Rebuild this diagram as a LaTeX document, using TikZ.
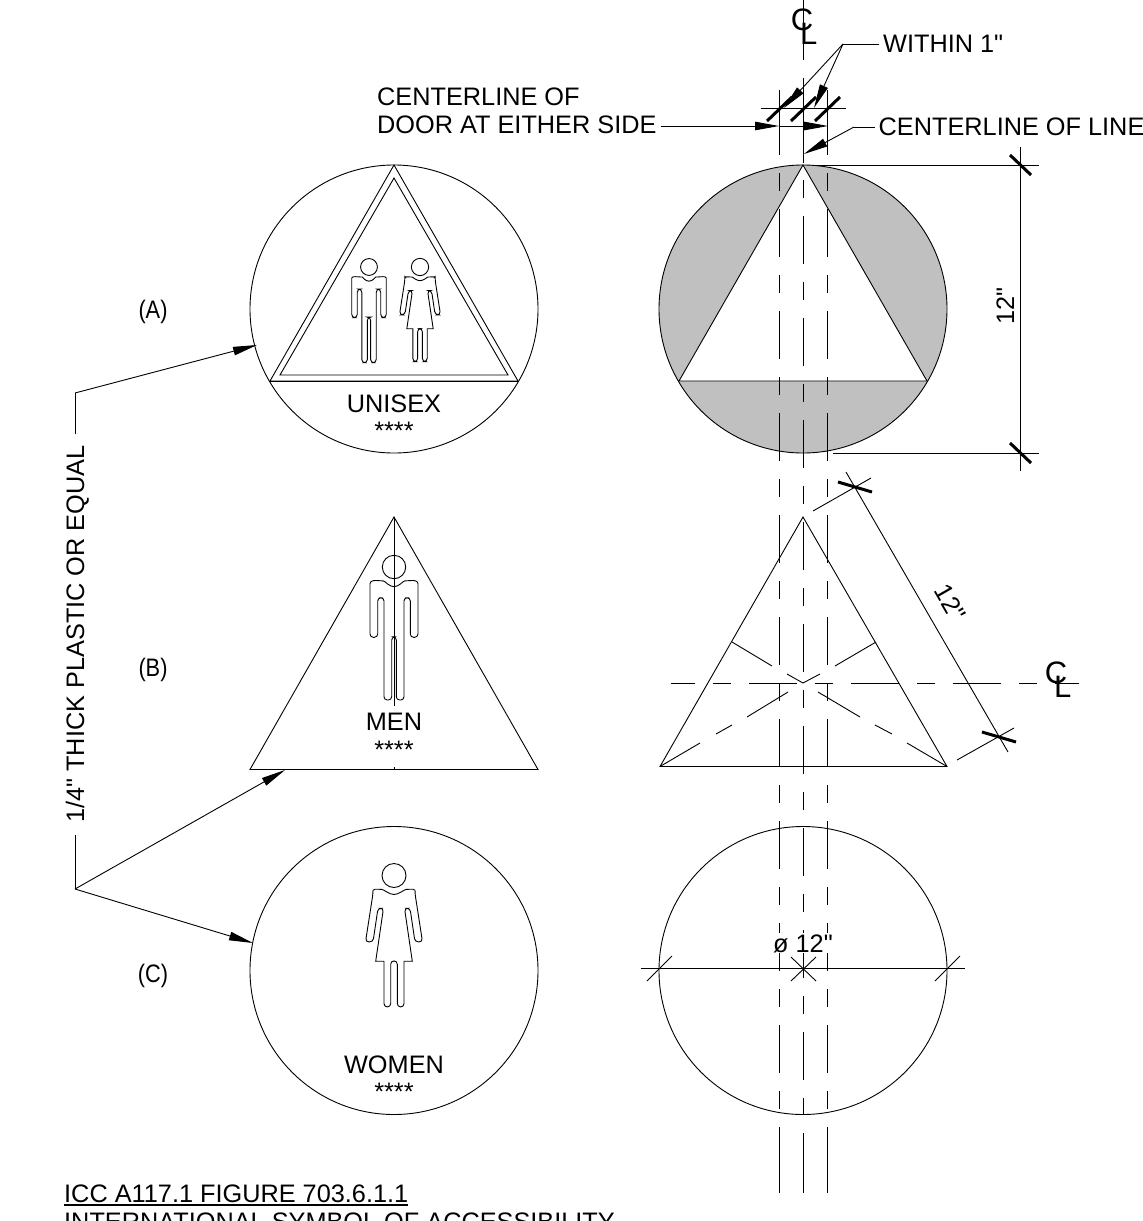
\documentclass[tikz,border=0pt]{standalone}
\usepackage{fontspec}
\setmainfont{Liberation Sans}
\newfontfamily\drawingfont{Liberation Sans}
\usetikzlibrary{arrows.meta}
\tikzset{
    thin line/.style={line width=0.9pt},
    center line/.style={line width=0.9pt,dash pattern=on 18pt off 18pt on 48pt off 18pt},
    slash/.style={line width=3pt},
    leader/.style={line width=0.9pt,-{Triangle[length=24pt,width=8.5pt]}},
    label text/.style={inner sep=0pt,anchor=base,font=\drawingfont\fontsize{25.3}{28}\selectfont},
    narrow text/.style={label text,xscale=0.86},
}
\definecolor{signgray}{HTML}{C0C0C0}
\newcommand{\manfigure}{
    \draw[thin line] (0,0) circle (11.7);
    \foreach \s in {1,-1} {
        \draw[thin line,xscale=\s,rounded corners=3.3pt] (0,19.7) .. controls (-5,19.7) and (-9,14) .. (-14,13.7) .. controls (-18,13.5) and (-24,13) .. (-24,20)
            -- (-24,70.3) -- (-16.3,70.3) -- (-16.3,30.7) -- (-10,30.7) -- (-10,133) -- (-2.3,133) -- (-2.3,69.7) -- (0,69.7);
    }
}
\newcommand{\womanfigure}{
    \draw[thin line] (0,0) circle (12);
    \foreach \s in {1,-1} {
        \draw[thin line,xscale=\s,rounded corners=3.3pt] (0,19) .. controls (-5,19) and (-10,14) .. (-15.7,13.7) .. controls (-19,13.7) and (-21,15) .. (-21,18)
            -- (-28.5,66.4) -- (-21,66.4) -- (-16,32.7) -- (-10.5,32.7) [sharp corners] -- (-18.3,85.7) -- (-10,85.7) [rounded corners=3.3pt] -- (-10,131.4) -- (-3.3,131.4) -- (-3.3,85.4) -- (0,85.4);
    }
}
\newcommand{\clmark}[3]{
    \node[label text,font=\drawingfont\fontsize{31}{31}\selectfont] (#1c) at (#2,#3) {C};
    \node[label text,font=\drawingfont\fontsize{31}{31}\selectfont,anchor=base west] (#1l) at (#2-2,#3+14) {L};
}
\begin{document}
\begin{tikzpicture}[x=1pt,y=-1pt,line cap=butt]
    \path[use as bounding box,clip] (0,0) rectangle (1143,1221);

    % left column
    \draw[thin line] (394,309) circle (144);
    \draw[thin line] (394,165) -- (270,381) -- (518,381) -- cycle;
    \draw[thin line] (394,178) -- (280,375) -- (508,375) -- cycle;
    \draw[line width=1pt] (270,381.5) -- (518,381.5);
    \begin{scope}[shift={(369,267)},scale=0.72] \manfigure \end{scope}
    \begin{scope}[shift={(420,267)},scale=0.72] \womanfigure \end{scope}
    \node[label text] (unisex) at (394,412) {UNISEX};
    \node[label text] (unisexstars) at (394,439) {****};

    \draw[thin line] (394,517) -- (250,769.5) -- (538,769.5) -- cycle;
    \begin{scope}[shift={(394,567)}] \manfigure \end{scope}
    \draw[thin line] (394,517) -- (394,706);
    \draw[thin line] (394,767) -- (394,770);
    \node[label text] (men) at (394,730) {MEN};
    \node[label text] (menstars) at (394,758) {****};

    \draw[thin line] (394,970.5) circle (144);
    \begin{scope}[shift={(394,875.5)}] \womanfigure \end{scope}
    \node[label text] (women) at (394,1073) {WOMEN};
    \node[label text] (womenstars) at (394,1100) {****};

    \node[narrow text] (signa) at (153,318) {(A)};
    \node[narrow text] (signb) at (153,676) {(B)};
    \node[narrow text] (signc) at (153,982) {(C)};

    % leaders on the left
    \node[label text,rotate=90] (plastic) at (84,634) {1/4" THICK PLASTIC OR EQUAL};
    \coordinate (upper) at (75,393);
    \coordinate (lower) at (75,889);
    \coordinate (tipa) at (257,345);
    \coordinate (tipb) at (285,770);
    \coordinate (tipc) at (253,943);
    \draw[thin line] (75,434) -- (upper);
    \draw[thin line] (75,835) -- (lower);
    \draw[leader] (upper) -- (tipa);
    \draw[leader] (lower) -- (tipb);
    \draw[leader] (lower) -- (tipc);

    % right column
    \fill[signgray] (803,309) circle (144);
    \fill[white] (803,165) -- (679,381) -- (927,381) -- cycle;
    \draw[thin line] (803,309) circle (144);
    \draw[thin line] (803,165) -- (679,381) -- (927,381) -- cycle;

    \draw[thin line] (803,517) -- (660,766.5) -- (947,766.5) -- cycle;
    \draw[thin line] (732,642) -- (772,666);
    \draw[thin line] (876,642) -- (835,666);
    \draw[thin line] (787,674) -- (803,683) -- (820,674);
    \draw[thin line] (660,766.5) -- (700,743) (716,734) -- (732,725) (747,717) -- (788,692);
    \draw[thin line] (947,766.5) -- (907,743) (892,734) -- (875,725) (860,717) -- (818,692);

    \draw[thin line] (803,970.5) circle (144);

    % center lines
    \foreach \x in {779.5,827} {
        \draw[thin line] (\x,90) -- (\x,155);
        \draw[center line] (\x,173) -- (\x,1109);
        \draw[thin line] (\x,1127) -- (\x,1193);
    }
    \draw[thin line] (803,0) -- (803,60);
    \draw[thin line] (803,78) -- (803,163);
    \draw[center line] (803,180) -- (803,1115);
    \draw[thin line] (803,1133) -- (803,1193);
    \draw[center line,dash phase=60pt] (671,683) -- (1079,683);
    \clmark{top}{802}{30}
    \clmark{side}{1056}{683}

    % top dimension
    \draw[thin line] (761,108.5) -- (846,108.5);
    \foreach \x in {767,791,815} {
        \draw[slash] (\x,121) -- (\x+25,97);
    }
    \node[label text,anchor=base west] (within) at (883,52) {WITHIN 1"};
    \coordinate (withinbend) at (843,44);
    \coordinate (withina) at (784,108);
    \coordinate (withinb) at (814,108);
    \draw[thin line] (within.west |- withinbend) ++(-4,0) -- (withinbend);
    \draw[leader] (withinbend) -- (withina);
    \draw[leader] (withinbend) -- (withinb);

    \node[label text,anchor=base west] (doortop) at (377,105) {CENTERLINE OF};
    \node[label text,anchor=base west] (doorbottom) at (377,133) {DOOR AT EITHER SIDE};
    \coordinate (doortip) at (779,126);
    \coordinate (doorend) at (828,126);
    \draw[leader] (doorbottom.east |- doortip) ++(4,0) -- (doortip);
    \draw[leader] (doortip) -- (doorend);

    \node[label text,anchor=base west] (lineof) at (878.5,135) {CENTERLINE OF LINE};
    \coordinate (linebend) at (854,127);
    \coordinate (linetip) at (804,154);
    \draw[thin line] (lineof.west |- linebend) ++(-4,0) -- (linebend);
    \draw[leader] (linebend) -- (linetip);

    % 12 inch dimensions
    \draw[thin line] (815,165) -- (1039,165);
    \draw[thin line] (833,453) -- (1039,453);
    \draw[thin line] (1020,147) -- (1020,471);
    \draw[slash] (1010,155) -- (1031,175);
    \draw[slash] (1010,443) -- (1031,463);
    \node[label text,rotate=90] (height) at (1014,306) {12"};

    \draw[thin line] (846,472) -- (1008,752);
    \draw[thin line] (813,511) -- (871,478);
    \draw[thin line] (957,760) -- (1014,728);
    \draw[slash] (838,482) -- (872,492);
    \draw[slash] (982,732) -- (1016,742);
    \node[label text,rotate=-60] (edge) at (943,607) {12"};

    % diameter
    \draw[thin line] (641,968.5) -- (965,968.5);
    \draw[thin line] (647,981) -- (672,956) (935,981) -- (960,956);
    \draw[thin line] (791,957) -- (816,981) (791,981) -- (816,957);
    \node[label text,fill=white,inner sep=1pt] (diameter) at (803,952) {ø 12"};

    % title
    \node[label text,anchor=base west] (title) at (64,1202) {ICC A117.1 FIGURE 703.6.1.1};
    \draw[line width=1.6pt] ([yshift=-3pt]title.base west) -- ([yshift=-3pt]title.base east);
    \node[label text,anchor=base west] (subtitle) at (64,1230) {INTERNATIONAL SYMBOL OF ACCESSIBILITY};
\end{tikzpicture}
\end{document}
